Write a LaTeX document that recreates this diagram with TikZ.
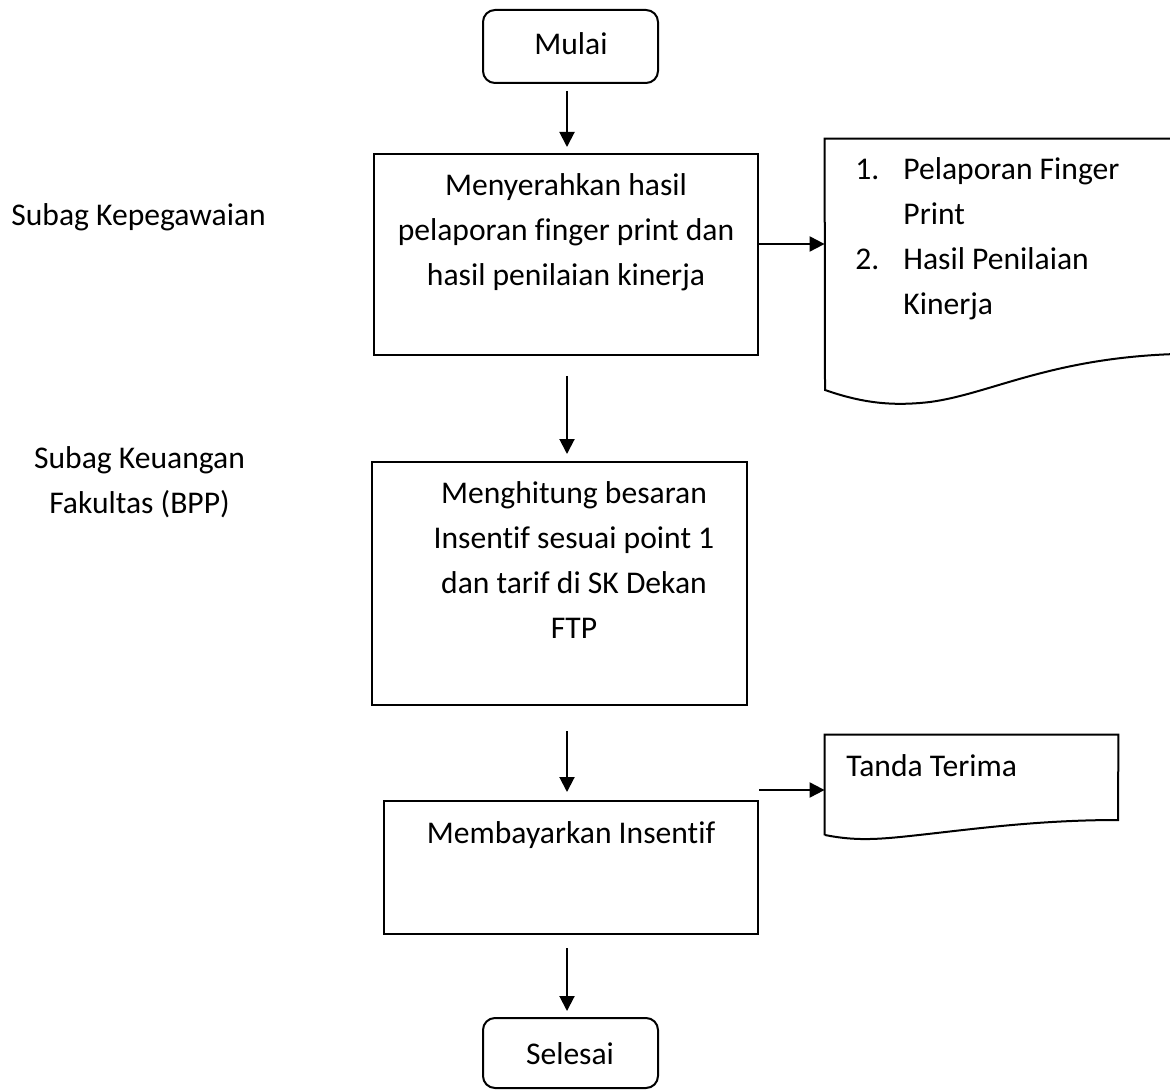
\documentclass[tikz,border=0pt]{standalone}
\usepackage{fontspec}
\setmainfont[Ligatures={NoCommon}]{Carlito}
\usetikzlibrary{arrows.meta,fit}
\begin{document}
\begin{tikzpicture}[x=0.5pt,y=-0.5pt,
  every node/.style={font=\fontsize{15.8pt}{22.5pt}\selectfont, inner sep=0pt},
  frame/.style={draw, line width=1pt, inner sep=0pt},
  terminal/.style={frame, rounded corners=6pt},
  area/.style={inner sep=0pt},
  txt/.style={anchor=base},
  arr/.style={line width=1pt, -{Triangle[length=7.5pt,width=7.5pt]}},
  outline/.style={line width=1pt, line join=miter}
]
\useasboundingbox (0,0) rectangle (1170,1090);
\clip (0,0) rectangle (1170,1090);

% lane labels
\node[anchor=base west] (lane1) at (11,226) {Subag Kepegawaian};
\node[txt] (lane2) at (139.5,468) {\begin{tabular}[t]{@{}c@{}}Subag Keuangan\\Fakultas (BPP)\end{tabular}};

% start / end
\node[terminal, fit={(483,10) (658,83)}] (start) {};
\node[txt] (starttxt) at (571,55) {Mulai};
\node[terminal, fit={(483,1018) (658,1088)}] (stop) {};
\node[txt] (stoptxt) at (570,1064) {Selesai};

% process boxes
\node[frame, fit={(374,154) (758,355)}] (box1) {};
\node[txt] (box1txt) at (566,196) {\begin{tabular}[t]{@{}c@{}}Menyerahkan hasil\\pelaporan finger print dan\\hasil penilaian kinerja\end{tabular}};

\node[frame, fit={(372,462) (747,705)}] (box2) {};
\node[txt] (box2txt) at (574,503) {\begin{tabular}[t]{@{}c@{}}Menghitung besaran\\Insentif sesuai point 1\\dan tarif di SK Dekan\\FTP\end{tabular}};

\node[frame, fit={(384,801) (758,934)}] (box3) {};
\node[txt] (box3txt) at (571,843) {Membayarkan Insentif};

% documents
\node[area, fit={(825,139) (1176,390)}] (doc1) {};
\draw[outline] (doc1.north east) -- (doc1.north west) -- (825,390)
  .. controls (865,404) and (895,406) .. (930,402)
  .. controls (990,394) and (1050,358) .. (1176,354) -- cycle;
\node[anchor=base west] (doc1txt) at (855,180) {\begin{tabular}[t]{@{}p{24pt}@{}l@{}}1.&Pelaporan Finger\\&Print\\2.&Hasil Penilaian\\&Kinerja\end{tabular}};

\node[area, fit={(825,735) (1118,835)}] (doc2) {};
\draw[outline] (doc2.south west) -- (doc2.north west) -- (doc2.north east) -- (1118,820)
  .. controls (1030,820) and (960,831) .. (900,837)
  .. controls (870,840) and (850,840) .. (825,835);
\node[anchor=base west] (doc2txt) at (846,776) {Tanda Terima};

% flow connectors
\coordinate (spine) at (567,0);
\coordinate (row1) at (0,244);
\coordinate (row2) at (0,790);
\draw[arr, shorten <=3.5pt, shorten >=3pt] (start.south -| spine) -- (box1.north -| spine);
\draw[arr, shorten <=10pt, shorten >=3.5pt] (box1.south -| spine) -- (box2.north -| spine);
\draw[arr, shorten <=12.5pt, shorten >=4pt] (box2.south -| spine) -- (box3.north -| spine);
\draw[arr, shorten <=6.5pt, shorten >=3pt] (box3.south -| spine) -- (stop.north -| spine);
\draw[arr] (box1.east |- row1) -- (doc1.west |- row1);
\draw[arr] (box3.east |- row2) -- (doc2.west |- row2);
\end{tikzpicture}
\end{document}
